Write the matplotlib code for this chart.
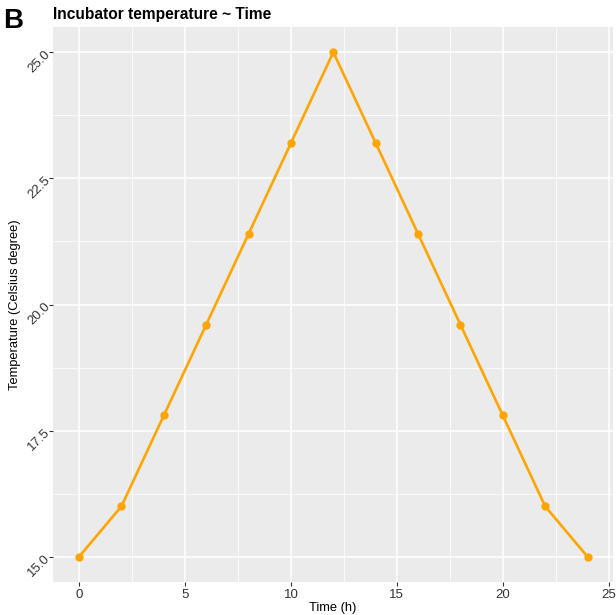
import matplotlib
matplotlib.use("Agg")
import matplotlib.pyplot as plt
from matplotlib.ticker import MultipleLocator

plt.rcParams['font.family'] = ['Liberation Sans', 'DejaVu Sans']

time_h = [0, 2, 4, 6, 8, 10, 12, 14, 16, 18, 20, 22, 24]
temperature = [15.0, 16.0, 17.8, 19.6, 21.4, 23.2, 25.0, 23.2, 21.4, 19.6, 17.8, 16.0, 15.0]
x_ticks = [0, 5, 10, 15, 20, 25]
y_ticks = [15.0, 17.5, 20.0, 22.5, 25.0]
y_tick_labels = ["15.0", "17.5", "20.0", "22.5", "25.0"]

W, H = 616, 615
fig = plt.figure(figsize=(W / 100, H / 100), dpi=100)
ax = fig.add_axes([53 / W, (H - 582) / H, (613 - 53) / W, (582 - 27) / H])
ax.set_facecolor('#EBEBEB')
for s in ax.spines.values():
    s.set_visible(False)

ax.set_xlim(-1.23, 25.2)
ax.set_ylim(14.5, 25.5)
ax.set_xticks(x_ticks)
ax.set_yticks(y_ticks)
ax.set_yticklabels(y_tick_labels, rotation=45, va='center', ha='right',
                   rotation_mode='anchor')
ax.xaxis.set_minor_locator(MultipleLocator(2.5))
ax.yaxis.set_minor_locator(MultipleLocator(1.25))
ax.grid(which='major', color='white', linewidth=1.1)
ax.grid(which='minor', color='white', linewidth=0.55)
ax.set_axisbelow(True)
ax.tick_params(which='major', length=3, width=0.8, color='#333333',
               labelsize=9.5, labelcolor='#333333', pad=2)
ax.tick_params(axis='y', which='major', pad=0.5)
ax.tick_params(which='minor', length=0)

ax.plot(time_h, temperature, color='#FFA500', linewidth=1.9, zorder=3)
ax.plot(time_h, temperature, 'o', color='#FFA500', markersize=5, zorder=4)

ax.set_xlabel('Time (h)', fontsize=9.3, color='black', labelpad=0.5)
ax.set_ylabel('Temperature (Celsius degree)', fontsize=9.3, color='black', labelpad=0)
ax.yaxis.set_label_coords(-(53 - 21) / (613 - 53), 0.5)

fig.text(53 / W, 1 - 14 / H, 'Incubator temperature ~ Time', fontsize=11.2,
         fontweight='bold', va='center', ha='left')
fig.text(3 / W, 1 - 21 / H, 'B', fontsize=20, fontweight='bold', va='center', ha='left')

fig.savefig('out.png', dpi=100)
